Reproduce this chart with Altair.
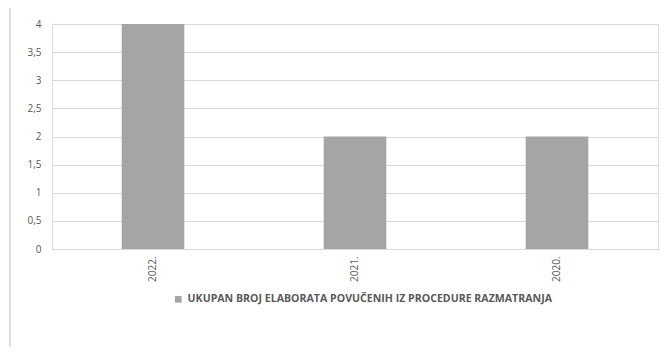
import altair as alt
import pandas as pd

years = ["2022.", "2021.", "2020."]
values = [4, 2, 2]
series = "UKUPAN BROJ ELABORATA POVUČENIH IZ PROCEDURE RAZMATRANJA"

df = pd.DataFrame({"godina": years, "broj": values, "serija": [series] * len(years)})

FONT = "Open Sans"
LABEL = "#595959"
GRID = "#D9D9D9"

bars = alt.Chart(df).mark_bar(color="#A5A5A5").encode(
    x=alt.X(
        "godina:N",
        sort=None,
        title=None,
        scale=alt.Scale(paddingInner=0.69, paddingOuter=0.345),
        axis=alt.Axis(
            labelAngle=-90,
            labelFont=FONT,
            labelFontSize=10,
            labelColor=LABEL,
            labelPadding=7,
            ticks=False,
            domainColor=GRID,
            grid=False,
        ),
    ),
    y=alt.Y(
        "broj:Q",
        title=None,
        scale=alt.Scale(domain=[0, 4]),
        axis=alt.Axis(
            values=[0, 0.5, 1, 1.5, 2, 2.5, 3, 3.5, 4],
            labelExpr="replace(format(datum.value, '~g'), '.', ',')",
            labelFont=FONT,
            labelFontSize=10,
            labelColor=LABEL,
            labelPadding=11,
            ticks=False,
            domain=False,
            gridColor=GRID,
        ),
    ),
    color=alt.Color(
        "serija:N",
        scale=alt.Scale(range=["#A5A5A5"]),
        legend=alt.Legend(
            title=None,
            orient="none",
            legendX=121,
            legendY=270,
            symbolType="square",
            symbolSize=45,
            symbolStrokeWidth=0,
            labelFont=FONT,
            labelFontSize=10.6,
            labelFontWeight="bold",
            labelColor=LABEL,
            labelLimit=500,
        ),
    ),
)

border = alt.Chart(df).mark_rule(color=GRID, strokeWidth=1).encode(
    x=alt.value(-42), y=alt.value(-16), y2=alt.value(331)
)

chart = (
    alt.layer(border, bars)
    .properties(
        width=606,
        height=225,
        autosize=alt.AutoSizeParams(type="none"),
        padding={"left": 44, "top": 16, "right": 4, "bottom": 98},
    )
    .configure_view(stroke=None)
    .configure(background="white")
)

chart.save("out.html", embed_options={"renderer": "svg", "actions": False})
